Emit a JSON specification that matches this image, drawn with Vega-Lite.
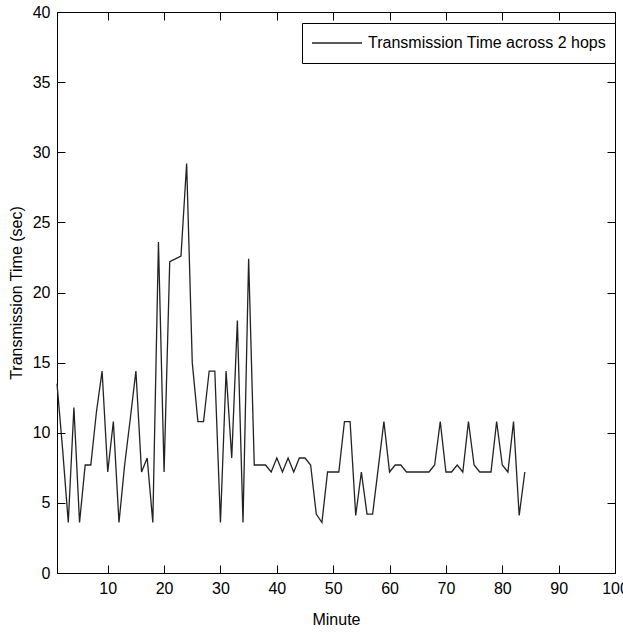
{
  "$schema": "https://vega.github.io/schema/vega-lite/v6.json",
  "width": 558,
  "height": 561,
  "autosize": "none",
  "padding": {"left": 57, "top": 12, "right": 8, "bottom": 61},
  "background": "white",
  "config": {
    "font": "Liberation Sans, Arial, sans-serif",
    "view": {"stroke": "black", "strokeWidth": 1},
    "axis": {
      "domainColor": "black",
      "tickColor": "black",
      "labelColor": "black",
      "titleColor": "black",
      "grid": false,
      "labelFontSize": 16,
      "titleFontSize": 16,
      "titleFontWeight": "normal",
      "tickSize": -8,
      "labelPadding": 15,
      "domainWidth": 1,
      "tickWidth": 1
    },
    "legend": {
      "labelFontSize": 16,
      "labelColor": "black",
      "labelLimit": 400
    }
  },
  "data": {
    "values": [
      {"minute": 1, "time": 13.5},
      {"minute": 2, "time": 8.8},
      {"minute": 3, "time": 3.6},
      {"minute": 4, "time": 11.8},
      {"minute": 5, "time": 3.6},
      {"minute": 6, "time": 7.7},
      {"minute": 7, "time": 7.7},
      {"minute": 8, "time": 11.5},
      {"minute": 9, "time": 14.4},
      {"minute": 10, "time": 7.2},
      {"minute": 11, "time": 10.8},
      {"minute": 12, "time": 3.6},
      {"minute": 13, "time": 7.7},
      {"minute": 14, "time": 11},
      {"minute": 15, "time": 14.4},
      {"minute": 16, "time": 7.2},
      {"minute": 17, "time": 8.2},
      {"minute": 18, "time": 3.6},
      {"minute": 19, "time": 23.6},
      {"minute": 20, "time": 7.2},
      {"minute": 21, "time": 22.2},
      {"minute": 22, "time": 22.4},
      {"minute": 23, "time": 22.6},
      {"minute": 24, "time": 29.2},
      {"minute": 25, "time": 15},
      {"minute": 26, "time": 10.8},
      {"minute": 27, "time": 10.8},
      {"minute": 28, "time": 14.4},
      {"minute": 29, "time": 14.4},
      {"minute": 30, "time": 3.6},
      {"minute": 31, "time": 14.4},
      {"minute": 32, "time": 8.2},
      {"minute": 33, "time": 18},
      {"minute": 34, "time": 3.6},
      {"minute": 35, "time": 22.4},
      {"minute": 36, "time": 7.7},
      {"minute": 37, "time": 7.7},
      {"minute": 38, "time": 7.7},
      {"minute": 39, "time": 7.2},
      {"minute": 40, "time": 8.2},
      {"minute": 41, "time": 7.2},
      {"minute": 42, "time": 8.2},
      {"minute": 43, "time": 7.2},
      {"minute": 44, "time": 8.2},
      {"minute": 45, "time": 8.2},
      {"minute": 46, "time": 7.7},
      {"minute": 47, "time": 4.2},
      {"minute": 48, "time": 3.6},
      {"minute": 49, "time": 7.2},
      {"minute": 50, "time": 7.2},
      {"minute": 51, "time": 7.2},
      {"minute": 52, "time": 10.8},
      {"minute": 53, "time": 10.8},
      {"minute": 54, "time": 4.1},
      {"minute": 55, "time": 7.2},
      {"minute": 56, "time": 4.2},
      {"minute": 57, "time": 4.2},
      {"minute": 58, "time": 7.5},
      {"minute": 59, "time": 10.8},
      {"minute": 60, "time": 7.2},
      {"minute": 61, "time": 7.7},
      {"minute": 62, "time": 7.7},
      {"minute": 63, "time": 7.2},
      {"minute": 64, "time": 7.2},
      {"minute": 65, "time": 7.2},
      {"minute": 66, "time": 7.2},
      {"minute": 67, "time": 7.2},
      {"minute": 68, "time": 7.7},
      {"minute": 69, "time": 10.8},
      {"minute": 70, "time": 7.2},
      {"minute": 71, "time": 7.2},
      {"minute": 72, "time": 7.7},
      {"minute": 73, "time": 7.2},
      {"minute": 74, "time": 10.8},
      {"minute": 75, "time": 7.7},
      {"minute": 76, "time": 7.2},
      {"minute": 77, "time": 7.2},
      {"minute": 78, "time": 7.2},
      {"minute": 79, "time": 10.8},
      {"minute": 80, "time": 7.7},
      {"minute": 81, "time": 7.2},
      {"minute": 82, "time": 10.8},
      {"minute": 83, "time": 4.1},
      {"minute": 84, "time": 7.2}
    ]
  },
  "layer": [
    {
      "mark": {"type": "line", "strokeWidth": 1.3, "interpolate": "linear"},
      "encoding": {
        "x": {
          "field": "minute", "type": "quantitative",
          "scale": {"domain": [1, 100], "nice": false, "zero": false},
          "axis": {"orient": "bottom", "title": "Minute", "values": [10, 20, 30, 40, 50, 60, 70, 80, 90, 100], "titlePadding": 15, "labelFlush": false}
        },
        "y": {
          "field": "time", "type": "quantitative",
          "scale": {"domain": [0, 40], "nice": false},
          "axis": {"orient": "left", "title": "Transmission Time (sec)", "values": [0, 5, 10, 15, 20, 25, 30, 35, 40], "titlePadding": 8}
        },
        "color": {
          "datum": "Transmission Time across 2 hops",
          "type": "nominal",
          "scale": {"range": ["#222222"]},
          "legend": {
            "title": null,
            "orient": "none",
            "legendX": 245,
            "legendY": 11,
            "symbolType": "stroke",
            "symbolSize": 2500,
            "symbolStrokeWidth": 1.3,
            "clipHeight": 22,
            "labelOffset": 5,
            "padding": 9,
            "strokeColor": "black",
            "fillColor": "white"
          }
        }
      }
    },
    {
      "mark": {"type": "line", "strokeOpacity": 0},
      "encoding": {
        "x": {
          "field": "minute", "type": "quantitative",
          "axis": {"orient": "top", "title": null, "labels": false, "values": [10, 20, 30, 40, 50, 60, 70, 80, 90, 100]}
        },
        "y": {
          "field": "time", "type": "quantitative",
          "axis": {"orient": "right", "title": null, "labels": false, "values": [0, 5, 10, 15, 20, 25, 30, 35, 40]}
        }
      }
    }
  ],
  "resolve": {"axis": {"x": "independent", "y": "independent"}}
}
